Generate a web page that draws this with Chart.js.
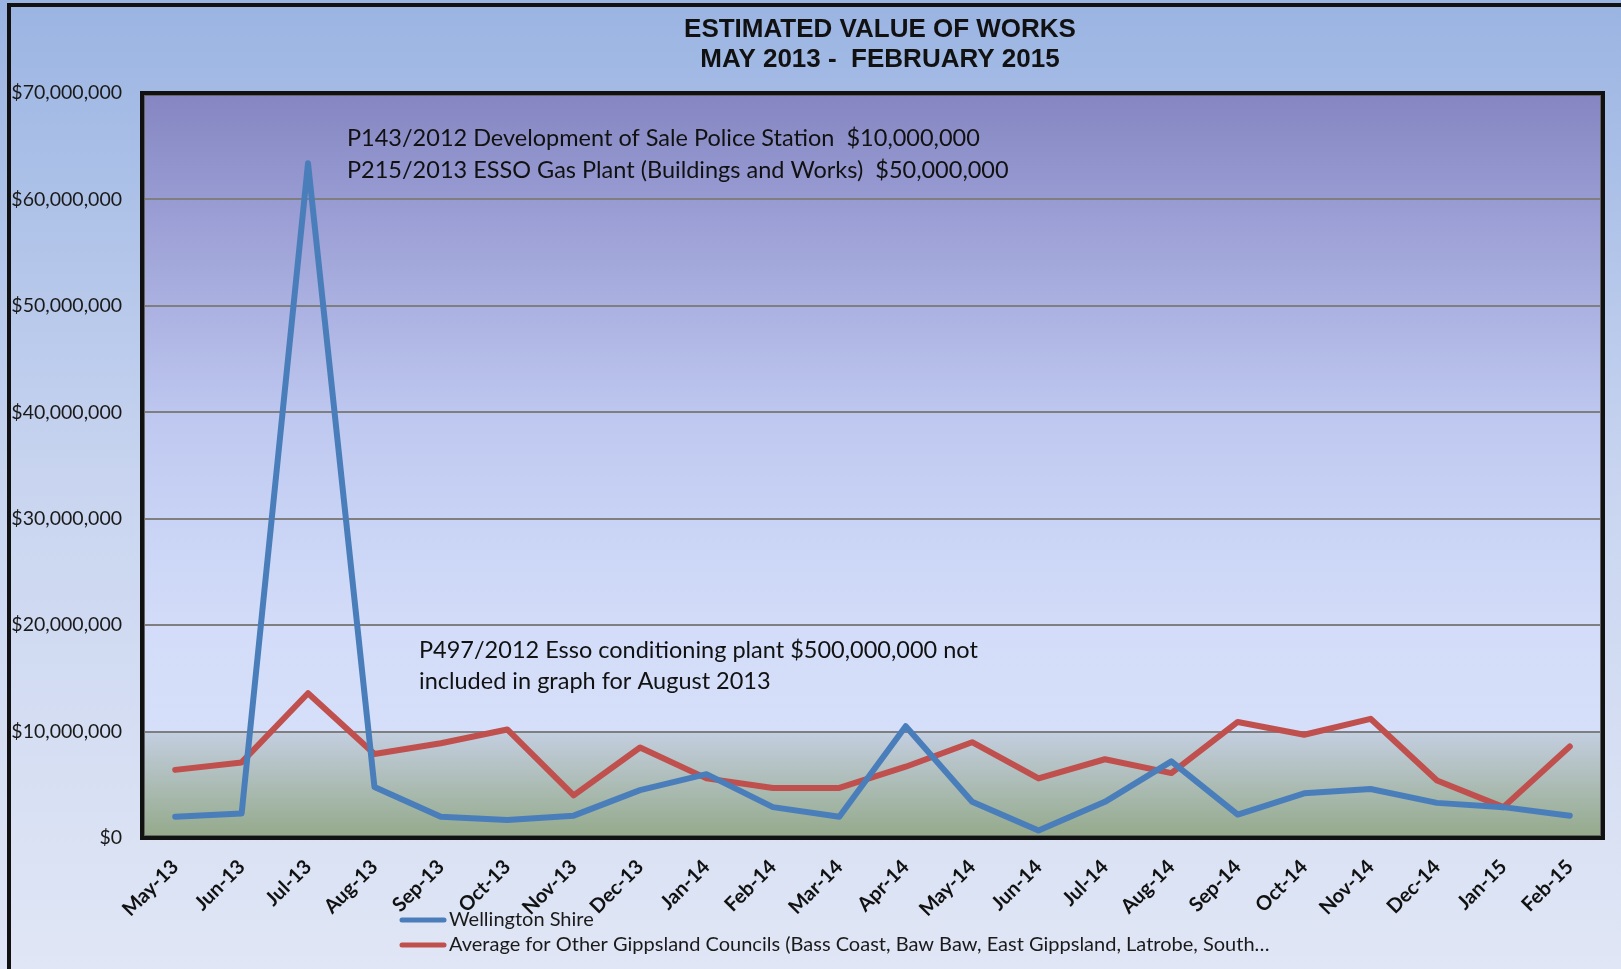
<!DOCTYPE html>
<html>
<head>
<meta charset="utf-8">
<title>Estimated Value of Works</title>
<script src="https://cdn.jsdelivr.net/npm/chart.js@4.4.1/dist/chart.umd.min.js"></script>
<style>
  html, body { margin: 0; padding: 0; overflow: hidden; background: #dde4f3; }
  #worksChart { display: block; }
</style>
</head>
<body>
<canvas id="worksChart" width="1621" height="969"></canvas>
<script>
  'use strict';

  // months shown on the x axis
  var months = ['May-13','Jun-13','Jul-13','Aug-13','Sep-13','Oct-13','Nov-13','Dec-13',
    'Jan-14','Feb-14','Mar-14','Apr-14','May-14','Jun-14','Jul-14','Aug-14',
    'Sep-14','Oct-14','Nov-14','Dec-14','Jan-15','Feb-15'];

  // values in dollars
  var wellington = [2000000, 2300000, 63400000, 4800000, 2000000, 1700000, 2100000, 4500000,
    6000000, 2900000, 2000000, 10500000, 3400000, 700000, 3400000, 7200000,
    2200000, 4200000, 4600000, 3300000, 2900000, 2100000];

  var gippslandAvg = [6400000, 7100000, 13600000, 7900000, 8900000, 10200000, 4000000, 8500000,
    5600000, 4700000, 4700000, 6700000, 9000000, 5600000, 7400000, 6100000,
    10900000, 9700000, 11200000, 5400000, 2900000, 8600000];

  var seriesNames = ['Wellington Shire',
    'Average for Other Gippsland Councils (Bass Coast, Baw Baw, East Gippsland, Latrobe, South\u2026'];

  var yMax = 70000000;
  var yStep = 10000000;

  var titleLines = ['ESTIMATED VALUE OF WORKS', 'MAY 2013 -  FEBRUARY 2015'];
  var noteTop = ['P143/2012 Development of Sale Police Station  $10,000,000',
    'P215/2013 ESSO Gas Plant (Buildings and Works)  $50,000,000'];
  var noteMid = ['P497/2012 Esso conditioning plant $500,000,000 not',
    'included in graph for August 2013'];

  var BLUE = '#4a7ebb';
  var RED = '#c0504d';

  //-------------------------
  //- backgrounds and frame -
  //-------------------------
  var backdrop = {
    id: 'backdrop',
    beforeDraw: function (chart) {
      var ctx = chart.ctx, a = chart.chartArea;
      ctx.save();
      // whole chart background
      var g = ctx.createLinearGradient(0, 0, 0, chart.height);
      g.addColorStop(0, '#9ab4e2');
      g.addColorStop(0.5, '#c9d5f0');
      g.addColorStop(1, '#e0e6f5');
      ctx.fillStyle = g;
      ctx.fillRect(0, 0, chart.width, chart.height);

      // plot area background
      var h = a.bottom - a.top;
      var ten = chart.scales.y.getPixelForValue(yStep);
      var t = (ten - a.top) / h;
      var p = ctx.createLinearGradient(0, a.top, 0, a.bottom);
      p.addColorStop(0, '#8586c2');
      p.addColorStop(0.15, '#999cd3');
      p.addColorStop(0.45, '#c0caf1');
      p.addColorStop(0.72, '#d3ddf9');
      p.addColorStop(t, '#d5dff9');
      p.addColorStop(Math.min(t + 0.002, 1), '#c3cedf');
      p.addColorStop(1, '#94a98a');
      ctx.fillStyle = p;
      ctx.fillRect(a.left, a.top, a.right - a.left, a.bottom - a.top);
      ctx.restore();
    },
    afterDraw: function (chart) {
      var ctx = chart.ctx, a = chart.chartArea;
      ctx.save();
      // plot border
      ctx.strokeStyle = '#111';
      ctx.lineWidth = 4;
      ctx.strokeRect(a.left, a.top, a.right - a.left, a.bottom - a.top);
      ctx.strokeStyle = '#666';
      ctx.lineWidth = 1;
      ctx.strokeRect(a.left + 2.5, a.top + 2.5, a.right - a.left - 5, a.bottom - a.top - 5);

      // outer frame (left and top edges)
      ctx.strokeStyle = '#111';
      ctx.lineWidth = 4;
      ctx.beginPath();
      ctx.moveTo(9, chart.height);
      ctx.lineTo(9, 5);
      ctx.lineTo(chart.width, 5);
      ctx.stroke();

      // title
      ctx.fillStyle = '#111';
      ctx.textAlign = 'center';
      ctx.textBaseline = 'middle';
      ctx.font = 'bold 26px "Liberation Sans", Arial, sans-serif';
      ctx.fillText(titleLines[0], 880, 30);
      ctx.fillText(titleLines[1], 880, 60);

      // notes inside the plot
      ctx.textAlign = 'left';
      ctx.font = '23.5px Lato, "Open Sans", sans-serif';
      ctx.fillStyle = '#111';
      ctx.fillText(noteTop[0], a.left + 205, a.top + 45);
      ctx.fillText(noteTop[1], a.left + 205, a.top + 77);
      ctx.fillText(noteMid[0], a.left + 277, a.top + 557);
      ctx.fillText(noteMid[1], a.left + 277, a.top + 588);

      // legend, stacked under the axis labels
      ctx.font = '20px Lato, "Open Sans", sans-serif';
      ctx.lineWidth = 5;
      ctx.lineCap = 'round';
      chart.data.datasets.forEach(function (ds, i) {
        var y = 920 + i * 25;
        ctx.strokeStyle = ds.borderColor;
        ctx.beginPath();
        ctx.moveTo(402, y);
        ctx.lineTo(444, y);
        ctx.stroke();
        ctx.fillStyle = '#1a1a1a';
        ctx.fillText(ds.label, 449, y);
      });
      ctx.restore();
    }
  };

  //-----------------
  //- the line chart -
  //-----------------
  var worksCanvas = document.getElementById('worksChart').getContext('2d');

  var worksChart = new Chart(worksCanvas, {
    type: 'line',
    data: {
      labels: months,
      datasets: [
        {
          label: seriesNames[0],
          data: wellington,
          borderColor: BLUE,
          backgroundColor: BLUE,
          borderWidth: 6,
          pointRadius: 0,
          tension: 0,
          borderJoinStyle: 'round',
          borderCapStyle: 'round'
        },
        {
          label: seriesNames[1],
          data: gippslandAvg,
          borderColor: RED,
          backgroundColor: RED,
          borderWidth: 6,
          pointRadius: 0,
          tension: 0,
          borderJoinStyle: 'round',
          borderCapStyle: 'round'
        }
      ]
    },
    options: {
      responsive: false,
      animation: false,
      layout: { padding: { top: 93, right: 18, left: 0, bottom: 0 } },
      plugins: {
        legend: { display: false },
        title: { display: false },
        tooltip: { enabled: false }
      },
      scales: {
        x: {
          offset: true,
          grid: { display: false, drawTicks: false },
          border: { display: false },
          ticks: {
            autoSkip: false,
            minRotation: 45,
            maxRotation: 45,
            padding: 17,
            color: '#111',
            font: { family: 'Lato, "Open Sans", sans-serif', size: 20, weight: 'bold' }
          },
          afterFit: function (s) { s.height = 131; }
        },
        y: {
          min: 0,
          max: yMax,
          grid: { color: '#7f7f7f', lineWidth: 2, drawTicks: false },
          border: { display: false },
          ticks: {
            stepSize: yStep,
            padding: 20,
            color: '#1a1a1a',
            font: { family: 'Lato, "Open Sans", sans-serif', size: 19.5 },
            callback: function (v) { return '$' + Number(v).toLocaleString('en-US'); }
          },
          afterFit: function (s) { s.width = 142; }
        }
      }
    },
    plugins: [backdrop]
  });
</script>
</body>
</html>
